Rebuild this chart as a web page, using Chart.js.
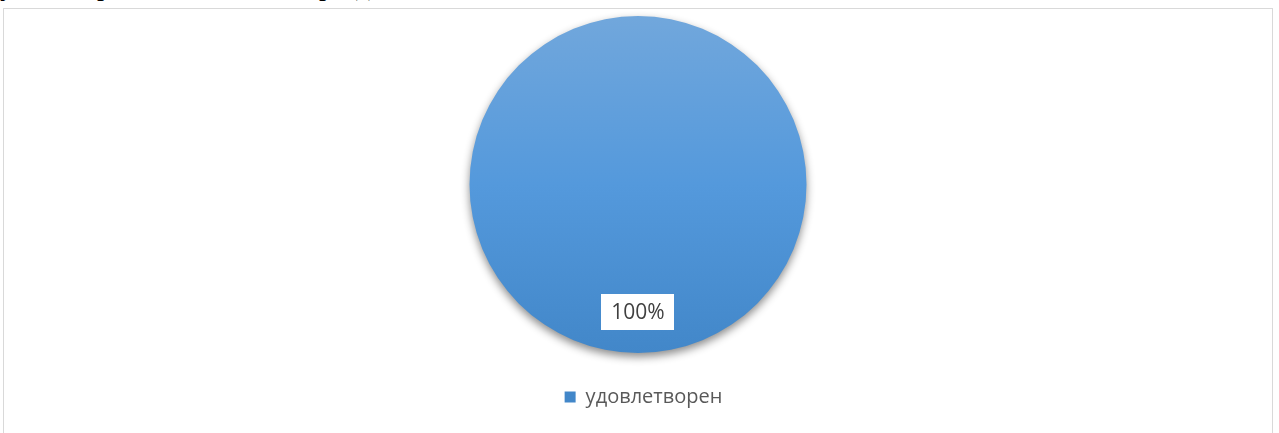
<!DOCTYPE html>
<html>
<head>
<meta charset="utf-8">
<script src="https://cdn.jsdelivr.net/npm/chart.js@4"></script>
<style>
  html, body { margin: 0; padding: 0; background: #fff; overflow: hidden; }
  body { width: 1279px; height: 433px; position: relative; }
  .doc { position: absolute; top: -28px; font: 28px "Liberation Serif", serif; line-height: 28px; color: #000; }
  #frame { position: absolute; left: 3px; top: 8px; width: 1268px; height: 440px; border: 1px solid #d9d9d9; }
  #wrap { position: absolute; left: 1px; top: 0px; width: 1266px; height: 408px; }
</style>
</head>
<body>
<span class="doc" style="left:0px">у</span>
<span class="doc" style="left:97px">р</span>
<span class="doc" style="left:319px">р</span>
<span class="doc" style="left:356px">д</span>
<div id="frame"><div id="wrap"><canvas id="pie"></canvas></div></div>
<script>
// chart data
const labels = ['удовлетворен'];
const values = [100];
const percentLabels = ['100%'];

const legendColor = '#595959';

// gradient fill from top to bottom of the pie
function pieGradient(context) {
    const chart = context.chart;
    const area = chart.chartArea;
    if (!area) return '#5b9bd5';
    const g = chart.ctx.createLinearGradient(0, area.top, 0, area.bottom);
    g.addColorStop(0, '#71a7dc');
    g.addColorStop(0.5, '#5499dc');
    g.addColorStop(1, '#4287c9');
    return g;
}

// soft shadow under the pie
const shadowPlugin = {
    id: 'shadow',
    beforeDatasetsDraw(chart) {
        const ctx = chart.ctx;
        ctx.save();
        ctx.shadowColor = 'rgba(0,0,0,0.45)';
        ctx.shadowBlur = 9;
        ctx.shadowOffsetX = 0;
        ctx.shadowOffsetY = 4;
    },
    afterDatasetsDraw(chart) {
        chart.ctx.restore();
    }
};

// legend sits a little right of the pie centre in the original
const legendNudge = {
    id: 'legendNudge',
    afterLayout(chart) {
        if (chart.legend) chart.legend.left += 11;
    }
};

// data label in a white box
const labelPlugin = {
    id: 'boxLabel',
    afterDatasetsDraw(chart) {
        const ctx = chart.ctx;
        const meta = chart.getDatasetMeta(0);
        meta.data.forEach((arc, i) => {
            const x = arc.x;
            const y = arc.y + arc.outerRadius * 0.755;
            ctx.save();
            ctx.font = '21px "Open Sans", sans-serif';
            const w = ctx.measureText(percentLabels[i]).width + 20;
            const h = 36;
            ctx.fillStyle = '#ffffff';
            ctx.fillRect(Math.round(x - w / 2), Math.round(y - h / 2), Math.round(w), h);
            ctx.fillStyle = '#404040';
            ctx.textAlign = 'center';
            ctx.textBaseline = 'middle';
            ctx.fillText(percentLabels[i], x, y + 1);
            ctx.restore();
        });
    }
};

new Chart(document.getElementById('pie'), {
    type: 'pie',
    data: {
        labels: labels,
        datasets: [{
            data: values,
            backgroundColor: pieGradient,
            borderWidth: 0,
        }],
    },
    options: {
        responsive: true,
        maintainAspectRatio: false,
        animation: false,
        layout: { padding: { top: 7, bottom: 0 } },
        plugins: {
            tooltip: { enabled: false },
            legend: {
                position: 'bottom',
                labels: {
                    boxWidth: 11,
                    boxHeight: 11,
                    padding: 34,
                    color: legendColor,
                    font: { family: 'Open Sans', size: 20 },
                },
            },
        },
    },
    plugins: [shadowPlugin, labelPlugin, legendNudge],
});
</script>
</body>
</html>
